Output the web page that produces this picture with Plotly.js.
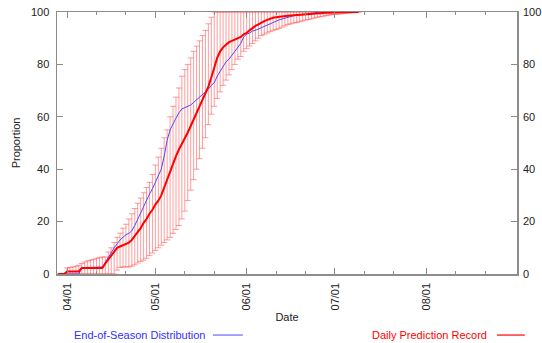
<!DOCTYPE html>
<html><head><meta charset="utf-8">
<script src="https://cdn.plot.ly/plotly-3.0.1.min.js"></script>
<style>html,body{margin:0;padding:0;background:#fff}#chart{width:542px;height:343px}</style>
</head><body><div id="chart"></div>
<script>
// daily records, first day = 2010-03-29
const startDay = [2010, 2, 29];
const predMean = [0,0,0,
 1,1,1,1,1, 2.3,2.3,2.3,2.3,2.3,2.3,2.3,2.3,
 4,5.5,7,8.5,10,10.5,11,11.2,12,13,14.5,16,17.5,19.5,21,23,24.5,
 26.5,28,30,33,36,39.5,42,45,47.5,49.5,51.5,54,56.5,59,61.5,64,66.5,69,71.5,75,
 79,82.5,85,86.5,87.5,88.5,89,89.5,90,90.5,91.5,92,93,94,94.7,95.3,96,96.5,97,97.5,97.8,98,
 98.2,98.4,98.5,98.6,98.7,98.8,98.9,99,99.1,99.2,99.3,99.4,99.5,99.5,99.6,99.6,99.7,99.7,99.8,99.8,99.8,99.9,99.9,99.9,100,100,100,100];
const predUpper = [0,0,0,
 2.3,2.5,2.7,3,3.3,4,4.6,5,5.3,5.6,6,6.2,6.5,6.5,8.4,10,12,14,15.6,17.5,19,21,23,25,27,29,31,33,35,38,
 41.6,44.6,48,52,55,60,64,67.5,71,75.5,78,80,82.5,85,87,89,91,93,95.5,98,
 100,100,100,100,100,100,100,100,100,100,100,100,100,100,100,100,100,100,100,100,100,100,100,100,100,
 100,100,100,100,100,100,100,100,100,100,100,100,100,100,100,100,100,100,100,100,100,100,100,100,100];
const predLower = [0,0,0,
 0,0,0,0,0,0,0,0,0,0,0,0,0,0,0,0,0,
 1.5,2.5,2.7,2.7,2.7,3,3.5,4.2,4.8,5.3,6,7,8,9,10,11,12,13,14,15.5,17,18.5,21,24,28,32,36,40,44,48,52,57,61,
 64,67,69.5,72,74,76,78,80,82,83,85,86,87,88,89,90,91,91.5,92,92.5,93,93.3,93.7,94.2,94.7,95.2,95.5,95.8,96,96.3,96.6,96.9,97.1,97.4,97.7,98,
 98.2,98.4,98.6,98.8,99,99.1,99.2,99.3,99.5,99.6,99.7,99.8,99.9,100];
const endSeason = [0,0,0,
 0,0,0,0,0, 2.3,2.5,2.5,2.5,2.5,2.5,2.5,2.7,
 4.5,6.5,8.5,10,11.5,13,14,15,15.5,16.5,18.5,21,23.5,26,28.5,30.5,32.5,35,37.5,40,45,51,55,57.5,59.5,61.5,
 63,63.5,64,64.5,65.5,66.5,67.5,68.5,69.5,70.5,72,73,75.5,77.5,79.5,81,82,83.5,85,86.5,88,90.5,91.5,92,92.7,93,
 93.5,94,94.5,95.2,95.8,96,96.5,97,97.3,97.7,98,98.3,98.6,98.8,99,99.1,99.2,99.3,99.5,99.7,99.9,
 100,100,100,100,100,100,100,100,100,100,100,100,100,100];
const monthTicks = ['2010-04-01','2010-05-01','2010-06-01','2010-07-01','2010-08-01'];
const minorTicks = ['2010-04-11','2010-04-21','2010-05-11','2010-05-21','2010-06-11','2010-06-21',
  '2010-07-11','2010-07-21','2010-08-11','2010-08-21'];
const yTicks = [0,20,40,60,80,100];

const t0 = Date.UTC(startDay[0], startDay[1], startDay[2]);
const dates = predMean.map((_, i) => new Date(t0 + i * 86400000).toISOString().slice(0, 10));
const errPlus = predUpper.map((u, i) => Math.max(0, u - predMean[i]));
const errMinus = predLower.map((l, i) => Math.max(0, predMean[i] - l));

const gray = '#8c8c8c';
const font = {family: 'Liberation Sans, Arial, sans-serif', size: 11, color: '#222'};

const traces = [
  {x: dates, y: predMean, type: 'scatter', mode: 'lines', line: {color: 'rgba(0,0,0,0)', width: 0},
   error_y: {type: 'data', symmetric: false, array: errPlus, arrayminus: errMinus,
             color: 'rgba(255,60,60,0.5)', thickness: 1, width: 3},
   showlegend: false, hoverinfo: 'skip'},
  {x: dates, y: endSeason, type: 'scatter', mode: 'lines', line: {color: '#4a4aff', width: 1},
   name: 'End-of-Season Distribution', showlegend: false},
  {x: dates, y: predMean, type: 'scatter', mode: 'lines', line: {color: '#ff0000', width: 2},
   name: 'Daily Prediction Record', showlegend: false},
  {x: [dates[0]], y: [0], yaxis: 'y2', type: 'scatter', mode: 'markers', marker: {opacity: 0},
   showlegend: false, hoverinfo: 'skip'}
];

const axisCommon = {showline: true, linecolor: gray, linewidth: 1.5, showgrid: false, zeroline: false,
  ticks: 'inside', ticklen: 6, tickwidth: 1, tickcolor: gray, tickfont: font};

const layout = {
  width: 542, height: 343,
  margin: {l: 57, r: 25, t: 12, b: 69},
  paper_bgcolor: '#fff', plot_bgcolor: '#fff',
  font: font, showlegend: false,
  xaxis: Object.assign({}, axisCommon, {
    type: 'date', range: ['2010-03-28 14:00', '2010-08-31 20:00'],
    tickmode: 'array', tickvals: monthTicks, tickformat: '%m/%d', tickangle: -90,
    mirror: 'ticks', ticklabelstandoff: 3,
    minor: {tickmode: 'array', tickvals: minorTicks, ticks: 'inside', ticklen: 3, tickcolor: gray, showgrid: false},
    title: {text: 'Date', font: font, standoff: 4}
  }),
  yaxis: Object.assign({}, axisCommon, {
    range: [0, 100], tickmode: 'array', tickvals: yTicks, mirror: 'ticks', ticklabelstandoff: 4,
    title: {text: 'Proportion', font: font, standoff: 8}
  }),
  yaxis2: Object.assign({}, axisCommon, {
    range: [0, 100], tickmode: 'array', tickvals: yTicks, overlaying: 'y', side: 'right',
    showline: false, ticks: '', ticklabelstandoff: 5
  }),
  annotations: [
    {xref: 'paper', yref: 'paper', x: 0.326, y: -0.233, xanchor: 'right', yanchor: 'middle',
     text: 'End-of-Season Distribution', showarrow: false, font: {family: font.family, size: 11, color: '#3030ff'}},
    {xref: 'paper', yref: 'paper', x: 0.939, y: -0.233, xanchor: 'right', yanchor: 'middle',
     text: 'Daily Prediction Record', showarrow: false, font: {family: font.family, size: 11, color: '#ff0000'}}
  ],
  shapes: [
    {type: 'line', xref: 'paper', yref: 'paper', x0: 0.339, x1: 0.404, y0: -0.233, y1: -0.233,
     line: {color: '#4a4aff', width: 1}},
    {type: 'line', xref: 'paper', yref: 'paper', x0: 0.9565, x1: 1.017, y0: -0.233, y1: -0.233,
     line: {color: '#ff0000', width: 1.2}}
  ]
};

Plotly.newPlot('chart', traces, layout, {displayModeBar: false, staticPlot: true});
</script>
</body></html>
